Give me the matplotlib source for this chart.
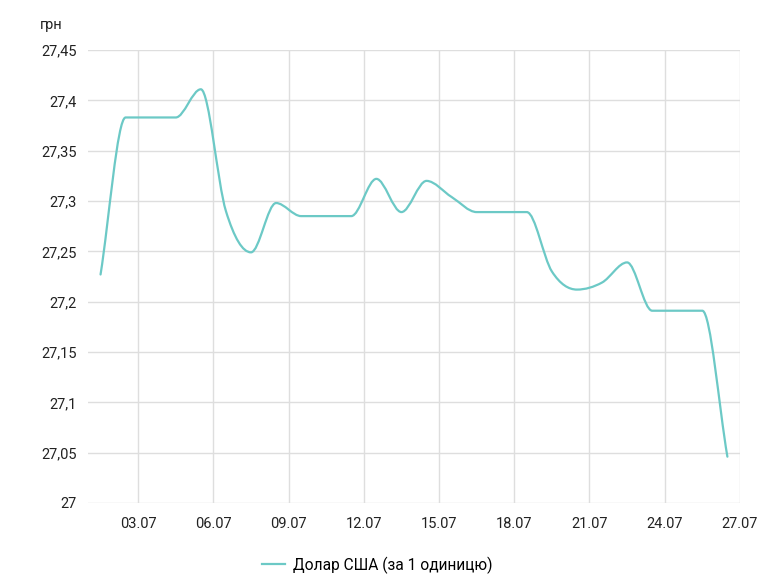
import matplotlib
matplotlib.use("Agg")
import matplotlib.pyplot as plt
from matplotlib.path import Path
from matplotlib.patches import PathPatch
from matplotlib.lines import Line2D
import numpy as np

plt.rcParams["font.family"] = ["Roboto", "DejaVu Sans"]

# daily USD rate, 01.07 .. 26.07
days = list(range(1, 27))
rates = [27.227, 27.383, 27.383, 27.383, 27.411, 27.290, 27.249, 27.298,
         27.285, 27.285, 27.285, 27.322, 27.289, 27.320, 27.304, 27.289,
         27.289, 27.289, 27.230, 27.212, 27.219, 27.239, 27.191, 27.191,
         27.191, 27.046]
tick_days = [3, 6, 9, 12, 15, 18, 21, 24, 27]
tick_labels = ["03.07", "06.07", "09.07", "12.07", "15.07", "18.07",
               "21.07", "24.07", "27.07"]
y_ticks = [27.0, 27.05, 27.1, 27.15, 27.2, 27.25, 27.3, 27.35, 27.4, 27.45]
series_name = "Долар США (за 1 одиницю)"

COLOR = "#6cc9c6"


def monotone_path(x, y):
    # Fritsch-Carlson tangents, drawn as cubic bezier segments
    x = np.asarray(x, float)
    y = np.asarray(y, float)
    h = np.diff(x)
    d = np.diff(y) / h
    m = np.zeros_like(y)
    m[0], m[-1] = d[0], d[-1]
    for i in range(1, len(y) - 1):
        if d[i - 1] * d[i] <= 0:
            m[i] = 0.0
        else:
            m[i] = (d[i - 1] + d[i]) / 2
    for i in range(len(d)):
        if d[i] == 0:
            m[i] = m[i + 1] = 0.0
            continue
        a, b = m[i] / d[i], m[i + 1] / d[i]
        s = a * a + b * b
        if s > 9:
            t = 3 / np.sqrt(s)
            m[i], m[i + 1] = t * a * d[i], t * b * d[i]
    verts = [(x[0], y[0])]
    codes = [Path.MOVETO]
    for i in range(len(d)):
        dx = h[i] / 3
        verts += [(x[i] + dx, y[i] + m[i] * dx),
                  (x[i + 1] - dx, y[i + 1] - m[i + 1] * dx),
                  (x[i + 1], y[i + 1])]
        codes += [Path.CURVE4] * 3
    return Path(verts, codes)


fig = plt.figure(figsize=(7.83, 5.79), dpi=100)
ax = fig.add_axes([0.1124, 0.1313, 0.8326, 0.7823])

xs = [d + 0.5 for d in days]
ax.add_patch(PathPatch(monotone_path(xs, rates), facecolor="none",
                       edgecolor=COLOR, lw=1.6, capstyle="round",
                       joinstyle="round"))

ax.set_xlim(1, 27)
ax.set_ylim(27.0, 27.45)
ax.set_xticks(tick_days)
ax.set_xticklabels(tick_labels)
ax.set_yticks(y_ticks)
ax.set_yticklabels([("%g" % v).replace(".", ",") for v in y_ticks])
ax.tick_params(length=0, labelsize=10.5, colors="#222222")
ax.tick_params(axis="y", pad=8)
ax.tick_params(axis="x", pad=10)
ax.grid(True, color="#dedede", lw=1)
ax.set_axisbelow(True)
for s in ax.spines.values():
    s.set_visible(False)

fig.text(40 / 783, 1 - 25 / 579, "грн", fontsize=10.5, color="#222222",
         va="center", ha="left")

handle = Line2D([], [], color=COLOR, lw=1.6)
fig.legend([handle], [series_name], loc="center", frameon=False,
           bbox_to_anchor=(0.482, 1 - 565 / 579), fontsize=11.2,
           handlelength=1.45, handletextpad=0.55)

fig.savefig("out.png", dpi=100)
